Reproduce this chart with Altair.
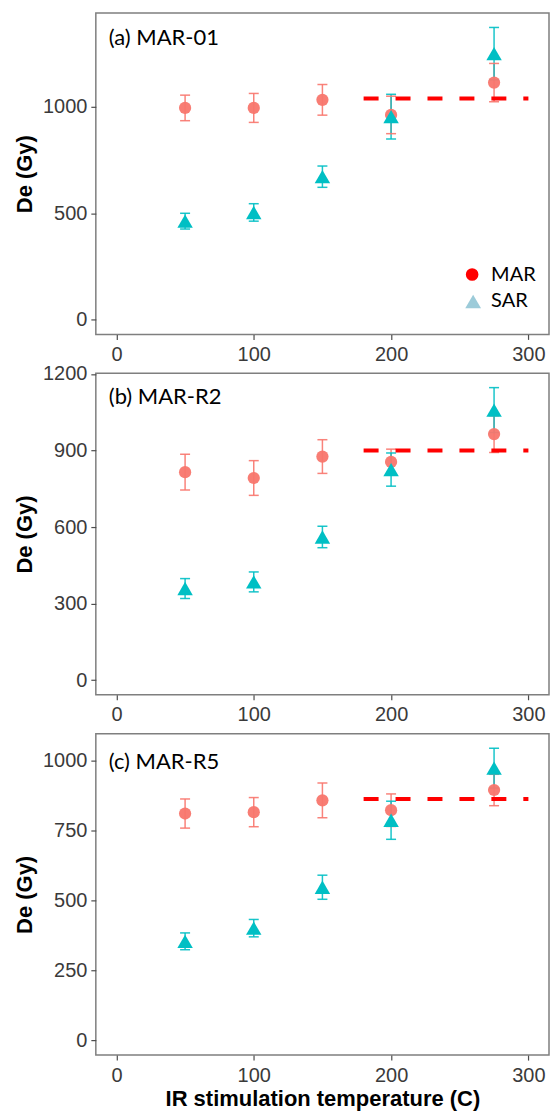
import altair as alt
import pandas as pd

# ---- data ----
temps = [50, 100, 150, 200, 275]
methods = ["MAR", "SAR"]
panel_labels = ["(a) MAR-01", "(b) MAR-R2", "(c) MAR-R5"]

mar_a = [995, 995, 1033, 962, 1114]
mar_a_err = [60, 68, 72, 88, 90]
sar_a = [463, 504, 672, 954, 1250]
sar_a_err = [37, 41, 50, 105, 123]

mar_b = [815, 792, 876, 855, 964]
mar_b_err = [70, 68, 66, 50, 72]
sar_b = [359, 385, 561, 825, 1058]
sar_b_err = [39, 39, 42, 65, 88]

mar_c = [810, 815, 857, 822, 894]
mar_c_err = [52, 52, 62, 58, 56]
sar_c = [354, 401, 547, 786, 972]
sar_c_err = [30, 31, 43, 68, 71]

line_levels = [1039, 900, 862]
line_start = 180
line_end = 300

x_ticks = [0, 100, 200, 300]
y_ticks = [[0, 500, 1000], [0, 300, 600, 900, 1200], [0, 250, 500, 750, 1000]]
y_domains = [[-69, 1441], [-57, 1202], [-52, 1095]]

legend_labels = ["MAR", "SAR"]

# ---- styling ----
W, H = 454, 322
MAR_COL = "#F8766D"
SAR_COL = "#00BFC4"
AXIS_FONT = "Liberation Sans"
ANNOT_FONT = "Lato"

series = [
    (mar_a, mar_a_err, sar_a, sar_a_err),
    (mar_b, mar_b_err, sar_b, sar_b_err),
    (mar_c, mar_c_err, sar_c, sar_c_err),
]
label_y = [32, 31, 35]


def panel(i, show_xtitle, legend=False):
    mar, mar_e, sar, sar_e = series[i]
    rows = []
    for m, vals, errs in (("MAR", mar, mar_e), ("SAR", sar, sar_e)):
        for t, v, e in zip(temps, vals, errs):
            rows.append({"temp": t, "De": v, "lo": v - e, "hi": v + e, "method": m})
    df = pd.DataFrame(rows)

    xenc = alt.X(
        "temp:Q",
        scale=alt.Scale(domain=[-15, 315], nice=False, zero=False),
        axis=alt.Axis(
            values=x_ticks,
            format="d",
            title="IR stimulation temperature (C)" if show_xtitle else None,
            labelFlush=False,
        ),
    )
    yscale = alt.Scale(domain=y_domains[i], nice=False, zero=False)
    yaxis = alt.Axis(values=y_ticks[i], format="d", title="De (Gy)", labelFlush=False)
    color = alt.Color(
        "method:N",
        scale=alt.Scale(domain=methods, range=[MAR_COL, SAR_COL]),
        legend=None,
    )
    shape = alt.Shape(
        "method:N",
        scale=alt.Scale(domain=methods, range=["circle", "triangle-up"]),
        legend=None,
    )

    base = alt.Chart(df)
    bars = base.mark_rule(strokeWidth=1.5, opacity=0.9).encode(
        x=xenc, y=alt.Y("lo:Q", scale=yscale, axis=yaxis), y2="hi:Q", color=color
    )
    cap_lo = base.mark_tick(orient="horizontal", size=10, thickness=1.5, opacity=0.9).encode(
        x="temp:Q", y="lo:Q", color=color
    )
    cap_hi = base.mark_tick(orient="horizontal", size=10, thickness=1.5, opacity=0.9).encode(
        x="temp:Q", y="hi:Q", color=color
    )
    pts_mar = base.transform_filter(alt.datum.method == "MAR").mark_point(
        filled=True, size=150, opacity=0.95
    ).encode(x="temp:Q", y="De:Q", color=color, shape=shape)
    pts_sar = base.transform_filter(alt.datum.method == "SAR").mark_point(
        filled=True, size=240, opacity=1
    ).encode(x="temp:Q", y="De:Q", color=color, shape=shape)

    ldf = pd.DataFrame({"x": [line_start], "x2": [line_end], "y": [line_levels[i]]})
    dash = alt.Chart(ldf).mark_rule(
        color="#FF0000", strokeWidth=4, strokeDash=[15, 17]
    ).encode(x="x:Q", x2="x2:Q", y="y:Q")

    tdf = pd.DataFrame({"label": [panel_labels[i]]})
    txt = alt.Chart(tdf).mark_text(
        align="left", baseline="alphabetic", font=ANNOT_FONT, fontSize=22, color="black"
    ).encode(x=alt.value(13), y=alt.value(label_y[i]), text="label:N")

    layers = [bars, cap_lo, cap_hi, pts_mar, pts_sar, dash, txt]

    if legend:
        lg = pd.DataFrame({"label": legend_labels})
        l_mar = alt.Chart(lg).transform_filter(alt.datum.label == "MAR").mark_point(
            filled=True, shape="circle", size=160, color="#FF0000", opacity=1
        ).encode(x=alt.value(377), y=alt.value(262))
        l_sar = alt.Chart(lg).transform_filter(alt.datum.label == "SAR").mark_point(
            filled=True, shape="triangle-up", size=250, color="#9CCBD9", opacity=1
        ).encode(x=alt.value(378), y=alt.value(289))
        t_mar = alt.Chart(lg).transform_filter(alt.datum.label == "MAR").mark_text(
            align="left", baseline="alphabetic", font=ANNOT_FONT, fontSize=20, color="black"
        ).encode(x=alt.value(396), y=alt.value(268), text="label:N")
        t_sar = alt.Chart(lg).transform_filter(alt.datum.label == "SAR").mark_text(
            align="left", baseline="alphabetic", font=ANNOT_FONT, fontSize=20, color="black"
        ).encode(x=alt.value(396), y=alt.value(295), text="label:N")
        layers += [l_mar, l_sar, t_mar, t_sar]

    return alt.layer(*layers).properties(width=W, height=H)


chart = alt.vconcat(
    panel(0, False, legend=True),
    panel(1, False),
    panel(2, True),
    spacing=39,
    bounds="flush",
).properties(
    padding={"left": 12, "top": 11, "right": 0, "bottom": 0},
    background="white",
).configure_view(
    stroke="#7F7F7F", strokeWidth=1.5
).configure_axis(
    grid=False,
    domain=False,
    ticks=True,
    tickSize=5,
    tickWidth=1.2,
    tickColor="#4D4D4D",
    labelFont=AXIS_FONT,
    labelFontSize=20,
    labelColor="#3A3A3A",
    labelPadding=4,
    titleFont=AXIS_FONT,
    titleFontSize=22,
    titleFontWeight="bold",
    titleColor="black",
    titlePadding=6,
).configure_axisX(
    labelPadding=5, titlePadding=4
)

chart.save("out.html", embed_options={"renderer": "svg", "actions": False})
